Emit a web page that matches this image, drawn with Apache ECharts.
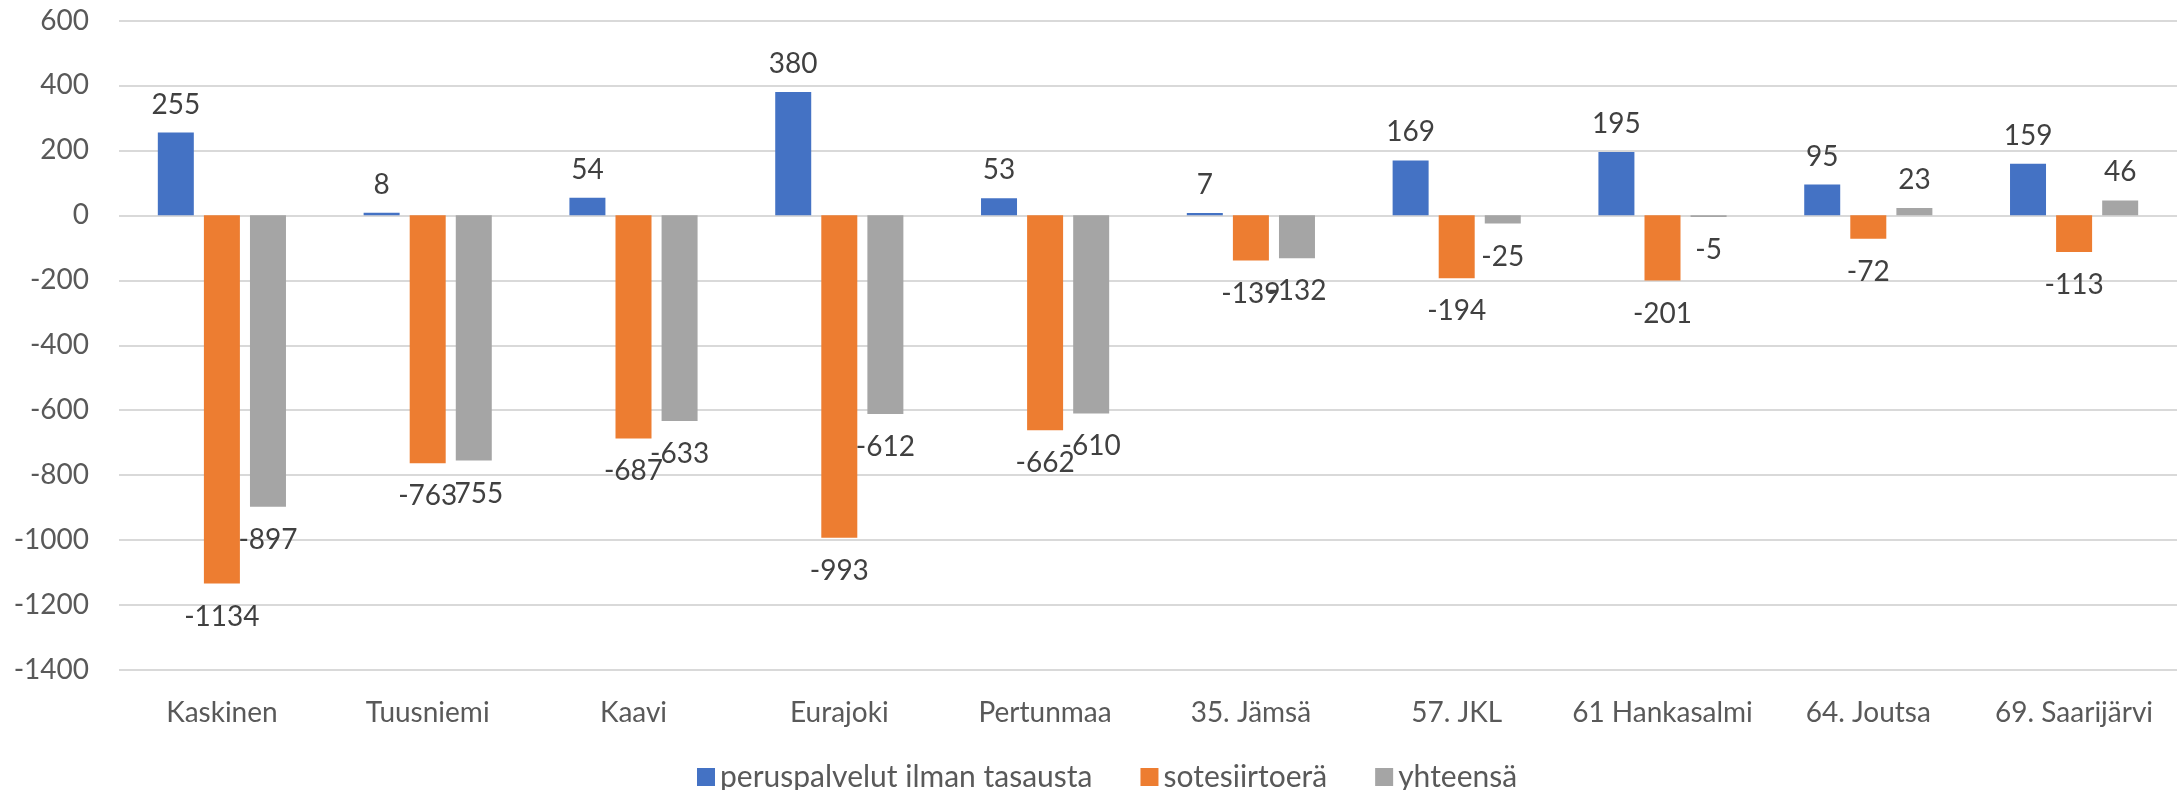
<!DOCTYPE html>
<html>
<head>
<meta charset="utf-8">
<style>
  html, body { margin: 0; padding: 0; background: #fff; }
  #main { width: 2178px; height: 790px; }
</style>
<script src="https://cdn.jsdelivr.net/npm/echarts@6/dist/echarts.min.js"></script>
</head>
<body>
<div id="main"></div>
<script>
// kunnat
const categories = ['Kaskinen', 'Tuusniemi', 'Kaavi', 'Eurajoki', 'Pertunmaa',
  '35. Jämsä', '57. JKL', '61 Hankasalmi', '64. Joutsa', '69. Saarijärvi'];
// sarjat
const peruspalvelut = [255, 8, 54, 380, 53, 7, 169, 195, 95, 159];
const sotesiirto = [-1134, -763, -687, -993, -662, -139, -194, -201, -72, -113];
const yhteensa = [-897, -755, -633, -612, -610, -132, -25, -5, 23, 46];
const seriesNames = ['peruspalvelut ilman tasausta', 'sotesiirtoerä', 'yhteensä'];

const FONT = 'Lato, "Noto Sans", sans-serif';

function barSeries(name, values, color) {
  // negatiivisten arvojen otsikot hieman kauemmas palkista
  const data = values.map(v => v < 0 ? { value: v, label: { distance: 19 } } : v);
  return {
    name: name,
    type: 'bar',
    data: data,
    barWidth: 36,
    barGap: '28%',
    itemStyle: { color: color },
    label: {
      show: true,
      position: 'outside',
      distance: 14,
      color: '#404040',
      fontSize: 28,
      fontFamily: FONT
    }
  };
}

const chart = echarts.init(document.getElementById('main'), null, { renderer: 'canvas' });
chart.setOption({
  animation: false,
  backgroundColor: '#fff',
  textStyle: { fontFamily: FONT },
  grid: {
    left: 119,
    right: 1,
    top: 20.5,
    bottom: 120,
    containLabel: false,
    outerBoundsMode: 'none'
  },
  legend: {
    data: seriesNames,
    left: 692,
    top: 757,
    itemWidth: 18,
    itemHeight: 18,
    itemGap: 48,
    icon: 'rect',
    textStyle: { fontSize: 30, color: '#595959', fontFamily: FONT }
  },
  xAxis: {
    type: 'category',
    data: categories,
    axisLine: { show: false },
    axisTick: { show: false },
    axisLabel: {
      interval: 0,
      margin: 29,
      fontSize: 28,
      color: '#595959',
      fontFamily: FONT
    }
  },
  yAxis: {
    type: 'value',
    min: -1400,
    max: 600,
    interval: 200,
    axisLine: { show: false },
    axisTick: { show: false },
    axisLabel: {
      margin: 30,
      fontSize: 28,
      color: '#595959',
      fontFamily: FONT,
      formatter: function (v) { return String(v); }
    },
    splitLine: { lineStyle: { color: '#d9d9d9', width: 2 } }
  },
  series: [
    barSeries(seriesNames[0], peruspalvelut, '#4472c4'),
    barSeries(seriesNames[1], sotesiirto, '#ed7d31'),
    barSeries(seriesNames[2], yhteensa, '#a5a5a5')
  ]
});
</script>
</body>
</html>
